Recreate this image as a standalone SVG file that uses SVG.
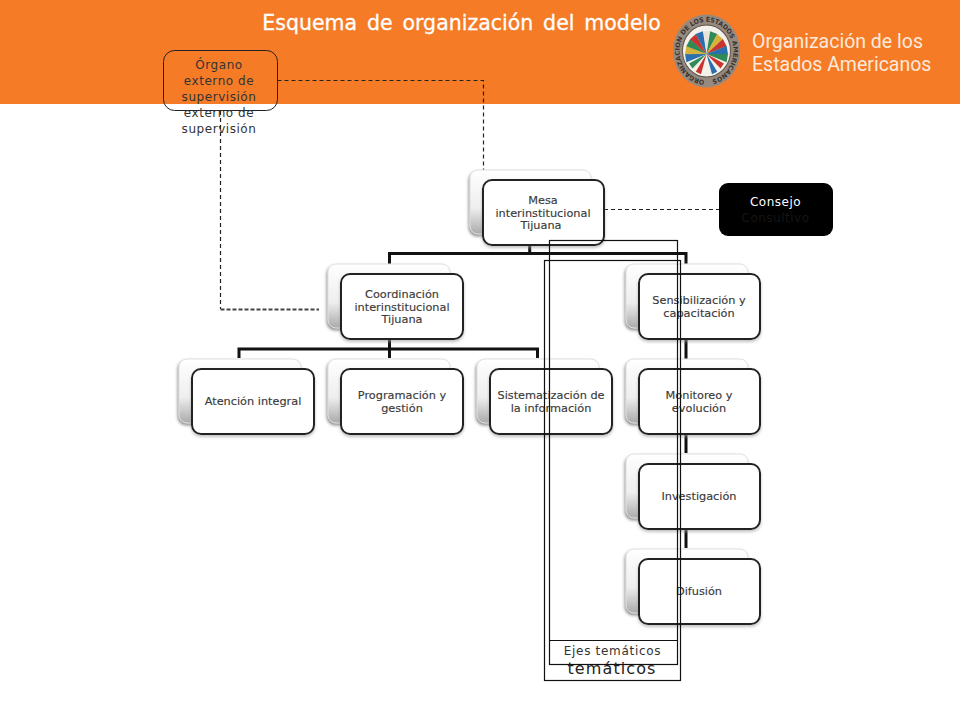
<svg xmlns="http://www.w3.org/2000/svg" xmlns:xlink="http://www.w3.org/1999/xlink" width="960" height="720" viewBox="0 0 960 720">
<style>
text{font-family:"DejaVu Sans","Liberation Sans",sans-serif;text-anchor:middle}
.back{fill:url(#bg);stroke:#e0e0e0;stroke-width:1;filter:url(#bs)}
.front{fill:#fff;stroke:#222;stroke-width:2;filter:url(#fs)}
.lbl{font-size:11.3px;fill:#3a3a3a;stroke:#3a3a3a;stroke-width:0.15}
.org{font-size:12px;fill:#333;letter-spacing:0.55px}
.dash{fill:none;stroke:#222;stroke-width:1.2;stroke-dasharray:4 3}
.dash2{fill:none;stroke:#444;stroke-width:2;stroke-dasharray:4 2}
.trunk{fill:none;stroke:#111;stroke-width:3}
.box{fill:none;stroke:#111;stroke-width:1.2}
.logo{font-family:"Roboto","Liberation Sans",sans-serif;font-size:19.500px;fill:#fdeadb;text-anchor:start}
</style>
<defs>
<linearGradient id="bg" x1="0" y1="0" x2="0" y2="1"><stop offset="0" stop-color="#fff"/><stop offset="0.6" stop-color="#eee"/><stop offset="1" stop-color="#aaa"/></linearGradient>
<filter id="bs" x="-10%" y="-10%" width="120%" height="120%"><feDropShadow dx="-1" dy="2" stdDeviation="1.5" flood-color="#777" flood-opacity="0.8"/></filter>
<filter id="fs" x="-10%" y="-10%" width="120%" height="120%"><feDropShadow dx="0" dy="2" stdDeviation="1.5" flood-color="#999" flood-opacity="0.6"/></filter>
<path id="ringtext" d="M706.500 79a28 28 0 1 1 0 -56a28 28 0 1 1 0 56"/>
</defs>

<g id="header">
<rect x="0" y="0" width="960" height="104" fill="#f57b27"/>
<text x="461.500" y="29.500" font-size="20.500px" fill="#fff" stroke="#fff" stroke-width="0.3" word-spacing="3.400">Esquema de organización del modelo</text>
</g>

<g id="logo">
<g transform="translate(706.500 51) scale(.96 1.04) translate(-706.500 -51)">
<circle cx="706.500" cy="51" r="35" fill="#968a80"/>
<circle cx="706.500" cy="51" r="25" fill="#f4f1ea" stroke="#5c5148" stroke-width="1"/>
<text style="font-size:6.500px;font-weight:700;fill:#3c332c;text-anchor:start"><textPath xlink:href="#ringtext" href="#ringtext" startOffset="2" textLength="168">ORGANIZACION DE LOS ESTADOS AMERICANOS</textPath></text>
<g transform="translate(706.500 54)">
<path d="M0 0L-4 -22L4 -22Z" fill="#2a6fb0" transform="rotate(-100)"/>
<path d="M0 0L-4 -22L4 -22Z" fill="#d6b23a" transform="rotate(-80)"/>
<path d="M0 0L-4 -22L4 -22Z" fill="#2f8a57" transform="rotate(-60)"/>
<path d="M0 0L-4 -22L4 -22Z" fill="#c8352e" transform="rotate(-40)"/>
<path d="M0 0L-4 -22L4 -22Z" fill="#2a6fb0" transform="rotate(-20)"/>
<path d="M0 0L-3 -22L3 -22Z" fill="#e8e4d8" transform="rotate(0)"/>
<path d="M0 0L-4 -22L4 -22Z" fill="#2f8a57" transform="rotate(20)"/>
<path d="M0 0L-4 -22L4 -22Z" fill="#d6b23a" transform="rotate(40)"/>
<path d="M0 0L-4 -22L4 -22Z" fill="#c8352e" transform="rotate(60)"/>
<path d="M0 0L-4 -22L4 -22Z" fill="#2a6fb0" transform="rotate(80)"/>
<path d="M0 0L-4 -22L4 -22Z" fill="#2f8a57" transform="rotate(100)"/>
<path d="M0 0L-3 -20L3 -20Z" fill="#c8352e" transform="rotate(125)"/>
<path d="M0 0L-3 -20L3 -20Z" fill="#2a6fb0" transform="rotate(155)"/>
<path d="M0 0L-3 -20L3 -20Z" fill="#c8352e" transform="rotate(-155)"/>
<path d="M0 0L-3 -20L3 -20Z" fill="#2f8a57" transform="rotate(-125)"/>
</g>
</g>
<text class="logo" x="752" y="48">Organización de los</text>
<text class="logo" x="752" y="71">Estados Americanos</text>
</g>

<g id="connectors">
<path class="dash" d="M277.500 80.500H483.500V180"/>
<path class="dash" d="M220.500 111V309"/>
<path class="dash2" d="M220.500 309.500H319"/>
<path class="dash" d="M590 209.500H719"/>
<path class="trunk" d="M529.700 245V253.500M389.500 264V253.500H686V264"/>
<path class="trunk" d="M389.500 339V358M239 358V349H537.500V358"/>
<path class="trunk" d="M686 339V359M686 434V453M686 529V548"/>
</g>

<g id="n-mesa">
<rect class="back" x="470" y="170" width="121" height="64" rx="8"/>
<rect class="front" x="483" y="180" width="121" height="65" rx="9"/>
<text class="lbl" x="543" y="204">Mesa</text><text class="lbl" x="543" y="216.500">interinstitucional</text><text class="lbl" x="541" y="229">Tijuana</text>
</g>
<g id="n-coordinacion">
<rect class="back" x="328" y="264" width="122" height="64" rx="8"/>
<rect class="front" x="341" y="274" width="122" height="65" rx="9"/>
<text class="lbl" x="402" y="298">Coordinación</text><text class="lbl" x="402" y="310.500">interinstitucional</text><text class="lbl" x="402" y="323">Tijuana</text>
</g>
<g id="n-atencion">
<rect class="back" x="179" y="359" width="122" height="64" rx="8"/>
<rect class="front" x="192" y="369" width="122" height="65" rx="9"/>
<text class="lbl" x="253" y="405">Atención integral</text>
</g>
<g id="n-programacion">
<rect class="back" x="328" y="359" width="122" height="64" rx="8"/>
<rect class="front" x="341" y="369" width="122" height="65" rx="9"/>
<text class="lbl" x="402" y="399">Programación y</text><text class="lbl" x="402" y="411.500">gestión</text>
</g>
<g id="n-sistematizacion">
<rect class="back" x="477" y="359" width="122" height="64" rx="8"/>
<rect class="front" x="490" y="369" width="122" height="65" rx="9"/>
<text class="lbl" x="551" y="399">Sistematización de</text><text class="lbl" x="551" y="411.500">la información</text>
</g>
<g id="n-sensibilizacion">
<rect class="back" x="626" y="264" width="122" height="64" rx="8"/>
<rect class="front" x="639" y="274" width="121" height="65" rx="9"/>
<text class="lbl" x="699" y="304">Sensibilización y</text><text class="lbl" x="699" y="316.500">capacitación</text>
</g>
<g id="n-monitoreo">
<rect class="back" x="626" y="359" width="122" height="64" rx="8"/>
<rect class="front" x="639" y="369" width="121" height="65" rx="9"/>
<text class="lbl" x="699" y="399">Monitoreo y</text><text class="lbl" x="699" y="411.500">evolución</text>
</g>
<g id="n-investigacion">
<rect class="back" x="626" y="454" width="122" height="64" rx="8"/>
<rect class="front" x="639" y="464" width="121" height="65" rx="9"/>
<text class="lbl" x="699" y="500">Investigación</text>
</g>
<g id="n-difusion">
<rect class="back" x="626" y="549" width="122" height="64" rx="8"/>
<rect class="front" x="639" y="559" width="121" height="65" rx="9"/>
<text class="lbl" x="699" y="595">Difusión</text>
</g>

<g id="n-organo">
<rect x="163.500" y="50.500" width="114" height="60" rx="11" fill="none" stroke="#222" stroke-width="1"/>
<text class="org" x="219" y="69">Órgano</text>
<text class="org" x="219" y="85">externo de</text>
<text class="org" x="219" y="101">supervisión</text>
<text class="org" x="219" y="117">externo de</text>
<text class="org" x="219" y="133">supervisión</text>
</g>

<g id="n-consejo">
<rect x="719" y="183" width="114" height="53" rx="9" fill="#000"/>
<text x="775.500" y="206" font-size="12px" fill="#fff" letter-spacing="0.500">Consejo</text>
<text x="775.500" y="222" font-size="12px" fill="#151515" letter-spacing="0.500">Consultivo</text>
</g>

<g id="n-ejes">
<rect class="box" x="549.500" y="240.500" width="128" height="424"/>
<path class="box" d="M549.500 640.500H677.500"/>
<rect class="box" x="544.500" y="260.500" width="136" height="420"/>
<text x="612.500" y="655" font-size="12px" fill="#333" letter-spacing="0.700">Ejes temáticos</text>
<text x="612" y="674" font-size="16px" fill="#222" letter-spacing="1.100">temáticos</text>
</g>
</svg>
